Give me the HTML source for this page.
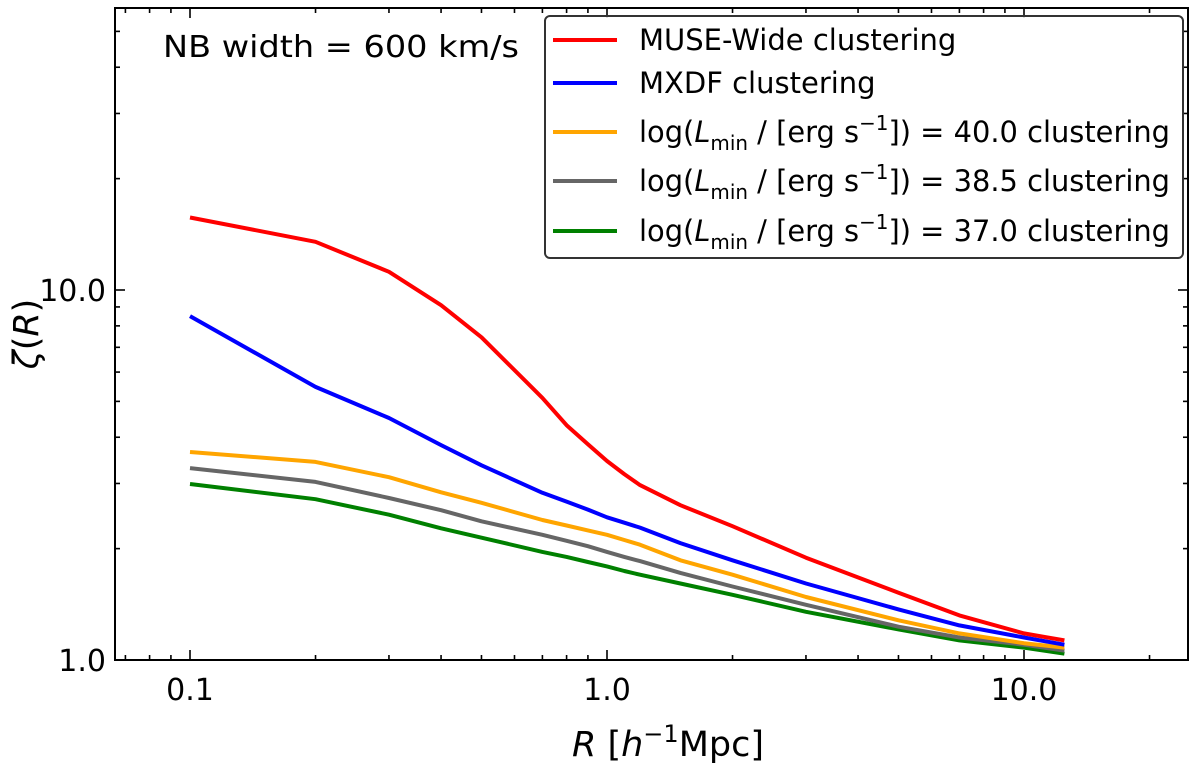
<!DOCTYPE html>
<html><head><meta charset="utf-8"><style>
body{margin:0;background:#fff;}
svg text{font-family:"DejaVu Sans","Liberation Sans",sans-serif;fill:#000;}
</style></head><body>
<svg id="chart" width="1200" height="763" viewBox="0 0 1200 763" xmlns="http://www.w3.org/2000/svg">
<g id="series"></g>
<g id="ticks"></g>
<rect x="115" y="8" width="1073" height="652" fill="none" stroke="#000" stroke-width="2"/>
<text x="163" y="57" font-size="30" textLength="356" lengthAdjust="spacingAndGlyphs">NB width = 600 km/s</text>
<g>
<rect x="545" y="16" width="638" height="242" rx="5" fill="#fff" fill-opacity="0.85" stroke="#333" stroke-width="2"/>
<g id="legend-entries"></g>
</g>
<text x="668" y="756" font-size="35" text-anchor="middle"><tspan font-style="italic">R</tspan> [<tspan font-style="italic">h</tspan><tspan font-size="24" dy="-14">−1</tspan><tspan dy="14">Mpc]</tspan></text>
<text transform="translate(38,334) rotate(-90)" font-size="35" text-anchor="middle"><tspan font-style="italic">ζ</tspan>(<tspan font-style="italic">R</tspan>)</text>
</svg>
<script>
const xValues=[0.1,0.2,0.3,0.4,0.5,0.7,0.8,0.9,1.0,1.1,1.2,1.5,2,3,5,7,10,12.5];
const museWide=[15.7,13.5,11.2,9.1,7.45,5.11,4.31,3.83,3.45,3.18,2.97,2.62,2.30,1.89,1.52,1.32,1.18,1.13];
const mxdf=[8.5,5.47,4.51,3.81,3.36,2.83,2.68,2.55,2.43,2.35,2.28,2.07,1.86,1.61,1.37,1.24,1.15,1.10];
const lmin40=[3.65,3.43,3.12,2.84,2.66,2.39,2.31,2.24,2.18,2.11,2.05,1.86,1.70,1.48,1.28,1.18,1.11,1.08];
const lmin385=[3.30,3.03,2.74,2.54,2.37,2.18,2.10,2.03,1.96,1.90,1.85,1.72,1.58,1.41,1.23,1.15,1.10,1.06];
const lmin37=[2.99,2.72,2.47,2.27,2.14,1.96,1.90,1.84,1.79,1.74,1.70,1.61,1.50,1.35,1.21,1.13,1.08,1.04];
const xTickLabels=["0.1","1.0","10.0"];
const yTickLabels=["1.0","10.0"];
const NS="http://www.w3.org/2000/svg";
function xs(v){return 607+417*Math.log10(v);}
function ys(v){return 660-370*Math.log10(v);}
function mk(t,a,p){const e=document.createElementNS(NS,t);for(const k in a)e.setAttribute(k,a[k]);p.appendChild(e);return e;}
const sg=document.getElementById('series');
const series=[[museWide,'#ff0000','muse-wide-line'],[mxdf,'#0000ff','mxdf-line'],[lmin40,'#ffa500','lmin-40-line'],[lmin385,'#666666','lmin-38.5-line'],[lmin37,'#008000','lmin-37-line']];
series.slice().reverse().forEach(s=>{
  const p=mk('polyline',{points:xValues.map((x,i)=>xs(x).toFixed(1)+','+ys(s[0][i]).toFixed(1)).join(' '),fill:'none',stroke:s[1],'stroke-width':4,'stroke-linejoin':'round'},sg);
  
  
});
const tg=document.getElementById('ticks');
function tick(x1,y1,x2,y2){const l=mk('line',{x1,y1,x2,y2,stroke:'#000','stroke-width':1.6},tg);

}
for(let d=-2;d<=2;d++)for(let m=1;m<10;m++){const v=m*Math.pow(10,d);
  const x=xs(v); if(x>115&&x<1188){const L=m==1?10:5;tick(x,660,x,660-L);tick(x,8,x,8+L);}
  const y=ys(v); if(y>8&&y<660||Math.abs(y-660)<1){const L=m==1?10:5;tick(115,y,115+L,y);tick(1188,y,1188-L,y);}
}
xTickLabels.forEach(s=>{const t=mk('text',{x:xs(parseFloat(s)),y:700,'font-size':30,'text-anchor':'middle'},tg);t.textContent=s;

});
yTickLabels.forEach(s=>{const t=mk('text',{x:106,y:ys(parseFloat(s))+11,'font-size':30,'text-anchor':'end'},tg);t.textContent=s;

});
const lg=document.getElementById('legend-entries');
const labels=['MUSE-Wide clustering','MXDF clustering','40.0','38.5','37.0'];
const rows=[40,83,132,181,231];
series.forEach((s,i)=>{
  const l=mk('line',{x1:553,x2:617,y1:rows[i],y2:rows[i],stroke:s[1],'stroke-width':4},lg);
  
  
  const t=mk('text',{x:639,y:rows[i]+10,'font-size':29},lg);
  if(i<2){t.textContent=labels[i];}
  else{t.setAttribute('textLength','531');t.setAttribute('lengthAdjust','spacingAndGlyphs');
  t.innerHTML='log(<tspan font-style="italic">L</tspan><tspan font-size="20" dy="8">min</tspan><tspan dy="-8"> / [erg s</tspan><tspan font-size="20" dy="-12">−1</tspan><tspan dy="12">]) = '+labels[i]+' clustering</tspan>';}
  
  
});
</script>
</body></html>
